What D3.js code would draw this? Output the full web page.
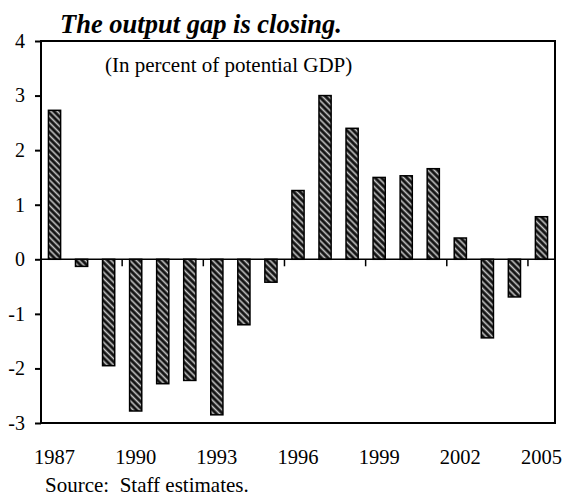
<!DOCTYPE html>
<html>
<head>
<meta charset="utf-8">
<script src="https://cdn.jsdelivr.net/npm/d3@7"></script>
<style>
  body { margin: 0; background: #fff; }
  text { font-family: "Liberation Serif", "Times New Roman", serif; fill: #000; }
</style>
</head>
<body>
<svg id="chart" width="564" height="498"></svg>
<script>
// output gap, percent of potential GDP
const years = ['1987', '1988', '1989', '1990', '1991', '1992', '1993', '1994', '1995', '1996',
               '1997', '1998', '1999', '2000', '2001', '2002', '2003', '2004', '2005']
const gap = [2.73, -0.13, -1.95, -2.78, -2.28, -2.22, -2.85, -1.2, -0.42, 1.26,
             3.0, 2.4, 1.5, 1.53, 1.66, 0.39, -1.44, -0.69, 0.78]
const yTicks = [-3, -2, -1, 0, 1, 2, 3, 4]
const xLabels = ['1987', '1990', '1993', '1996', '1999', '2002', '2005']

const plot = { left: 41, right: 555, top: 41, bottom: 423 }
const svg = d3.select('#chart')

const defs = svg.append('defs')
const pat = defs.append('pattern')
    .attr('id', 'hatch')
    .attr('patternUnits', 'userSpaceOnUse')
    .attr('width', 4.5)
    .attr('height', 4.5)
    .attr('patternTransform', 'rotate(-45)')
pat.append('rect').attr('width', 4.5).attr('height', 4.5).attr('fill', '#111')
pat.append('line')
    .attr('x1', 2.25).attr('x2', 2.25).attr('y1', 0).attr('y2', 4.5)
    .attr('stroke', '#c8c8c8').attr('stroke-width', 1.6)

const x = d3.scaleBand()
    .domain(years)
    .range([plot.left, plot.right])
    .paddingInner(0.55)
    .paddingOuter(0.275)

const y = d3.scaleLinear()
    .domain([-3, 4])
    .range([plot.bottom, plot.top])

// bars
svg.append('g')
    .selectAll('rect')
    .data(years)
    .join('rect')
    .attr('x', d => x(d))
    .attr('width', x.bandwidth())
    .attr('y', (d, i) => y(Math.max(0, gap[i])))
    .attr('height', (d, i) => Math.abs(y(gap[i]) - y(0)))
    .attr('fill', 'url(#hatch)')
    .attr('stroke', '#000')
    .attr('stroke-width', 1.5)

// zero line + tick marks between categories
const y0 = y(0)
svg.append('line')
    .attr('x1', plot.left).attr('x2', plot.right)
    .attr('y1', y0).attr('y2', y0)
    .attr('stroke', '#000').attr('stroke-width', 1.5)

const gapHalf = (x.step() - x.bandwidth()) / 2
svg.append('g')
    .selectAll('line')
    .data(d3.range(3, years.length, 3))
    .join('line')
    .attr('x1', k => x(years[k]) - gapHalf)
    .attr('x2', k => x(years[k]) - gapHalf)
    .attr('y1', y0)
    .attr('y2', y0 + 7)
    .attr('stroke', '#000')
    .attr('stroke-width', 1.5)

// frame
svg.append('rect')
    .attr('x', plot.left).attr('y', plot.top)
    .attr('width', plot.right - plot.left)
    .attr('height', plot.bottom - plot.top)
    .attr('fill', 'none')
    .attr('stroke', '#000')
    .attr('stroke-width', 2)

// y axis
const yAxis = svg.append('g')
    .attr('transform', `translate(${plot.left},0)`)
    .call(d3.axisLeft(y).tickValues(yTicks).tickSize(6).tickPadding(10).tickFormat(d => String(d)))
yAxis.select('.domain').remove()
yAxis.selectAll('line').attr('stroke-width', 2)
yAxis.selectAll('text').style('font-size', '20px').attr('font-family', null)

// x labels
const xAxis = svg.append('g')
    .attr('transform', `translate(0,${plot.bottom})`)
    .call(d3.axisBottom(x).tickValues(xLabels).tickSize(0).tickPadding(26))
xAxis.select('.domain').remove()
xAxis.selectAll('text').style('font-size', '20.5px').attr('font-family', null)

// titles
svg.append('text')
    .attr('x', 60).attr('y', 33)
    .style('font-size', '26.5px')
    .style('font-weight', 'bold')
    .style('font-style', 'italic')
    .text('The output gap is closing.')

svg.append('text')
    .attr('x', 105).attr('y', 72)
    .style('font-size', '21px')
    .text('(In percent of potential GDP)')

svg.append('text')
    .attr('x', 45).attr('y', 492)
    .style('font-size', '21px')
    .style('white-space', 'pre')
    .text('Source:  Staff estimates.')
</script>
</body>
</html>
